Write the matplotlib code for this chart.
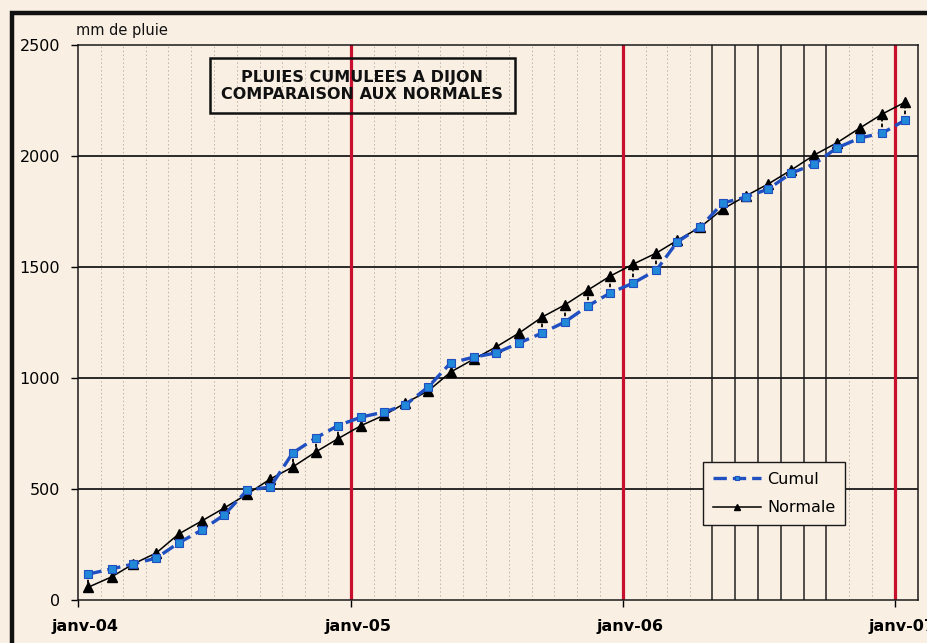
import matplotlib
matplotlib.use("Agg")
import matplotlib.pyplot as plt
import matplotlib.transforms as mtransforms
from matplotlib.patches import Rectangle
import pandas as pd

# mid-month points, janv-04 .. janv-07
dates = pd.date_range("2004-01-01", "2007-01-01", freq="MS") + pd.Timedelta(days=14)

cumul = [117, 140, 162, 189, 257, 315, 383, 495, 509, 662, 730, 786,
         824, 847, 878, 960, 1068, 1094, 1113, 1158, 1203, 1252, 1324, 1383,
         1428, 1486, 1613, 1680, 1788, 1815, 1851, 1923, 1964, 2036, 2081, 2103,
         2162]
normale = [58, 104, 162, 212, 297, 356, 414, 477, 545, 599, 667, 727,
           786, 833, 887, 942, 1027, 1085, 1140, 1203, 1275, 1329, 1396, 1459,
           1513, 1563, 1620, 1680, 1761, 1820, 1874, 1937, 2005, 2059, 2126, 2189,
           2243]

year_ticks = pd.to_datetime(["2004-01-01", "2005-01-01", "2006-01-01", "2007-01-01"])
year_labels = ["janv-04", "janv-05", "janv-06", "janv-07"]
dark_months = pd.date_range("2006-05-01", "2006-10-01", freq="MS")

bg = "#f9efe3"
W, H = 927, 643

fig = plt.figure(figsize=(W / 100, H / 100), dpi=100, facecolor=bg)
ax = fig.add_axes([78 / W, 1 - 600 / H, 840 / W, 555 / H], facecolor=bg)

# month lines
for m in pd.date_range("2004-02-01", "2007-01-01", freq="MS"):
    if m in year_ticks:
        continue
    if m in dark_months:
        ax.axvline(m, color="#222222", lw=1.1, zorder=1)
    else:
        ax.axvline(m, color="#bdb4aa", lw=0.7, ls=(0, (1.5, 2.5)), zorder=1)
for m in year_ticks[1:]:
    ax.axvline(m, color="#c8102e", lw=2.3, zorder=2)
for v in [500, 1000, 1500, 2000]:
    ax.axhline(v, color="#1a1a1a", lw=1.3, zorder=1.5)

# high-low lines between series
ax.vlines(dates, cumul, normale, colors="k", lw=1.3, linestyles=(0, (2, 1.2)), zorder=3)

ax.plot(dates, normale, color="k", lw=1.1, marker="^", ms=7, mfc="k", mec="k",
        label="Normale", zorder=4)
ax.plot(dates, cumul, color="#1f4fc0", lw=2.4, ls=(0, (4, 1.8)), marker="s", ms=6,
        mfc="#2288d8", mec="#1f4fc0", mew=0.8, label="Cumul", zorder=5)

ax.set_xlim(pd.Timestamp("2004-01-01"), pd.Timestamp("2007-02-01"))
ax.set_ylim(0, 2500)
ax.set_yticks([0, 500, 1000, 1500, 2000, 2500])
ax.set_xticks(year_ticks)
ax.set_xticklabels(year_labels, fontsize=11.5, fontweight="bold")
ax.tick_params(axis="y", labelsize=11.5, length=5, width=1, pad=8)
ax.tick_params(axis="x", length=5, width=1, pad=9)
offset = mtransforms.ScaledTranslation(7 / 100, 0, fig.dpi_scale_trans)
for lab in ax.get_xticklabels():
    lab.set_transform(lab.get_transform() + offset)
for s in ax.spines.values():
    s.set_linewidth(1.1)
    s.set_color("#1a1a1a")

handles, labels = ax.get_legend_handles_labels()
leg = ax.legend(handles[::-1], labels[::-1], loc="upper left",
                bbox_to_anchor=((703 - 78) / 840, (600 - 462) / 555),
                borderaxespad=0, fontsize=11.5, frameon=True, fancybox=False,
                edgecolor="#1a1a1a", facecolor=bg, framealpha=1,
                handlelength=3.0, handletextpad=0.4, borderpad=0.6,
                labelspacing=0.85, markerscale=0.6)
leg.get_frame().set_linewidth(1.0)

# title box
fig.patches.append(Rectangle((210 / W, 1 - 113 / H), 305 / W, 55 / H,
                             transform=fig.transFigure, fill=False,
                             edgecolor="#111111", lw=1.8, zorder=10))
fig.text(362 / W, 1 - 86 / H, "PLUIES CUMULEES A DIJON\nCOMPARAISON AUX NORMALES",
         ha="center", va="center", fontsize=11.5, fontweight="bold",
         linespacing=1.2, color="#111111")

fig.text(76 / W, 1 - 35 / H, "mm de pluie", fontsize=10.5, va="baseline",
         color="#111111")

# outer frame of the page
fig.patches.append(Rectangle((12 / W, -0.2), 1.2, 1.2 - 13 / H,
                             transform=fig.transFigure, fill=False,
                             edgecolor="#111111", lw=3.2, zorder=10))

fig.savefig("out.png", dpi=100, facecolor=bg)
